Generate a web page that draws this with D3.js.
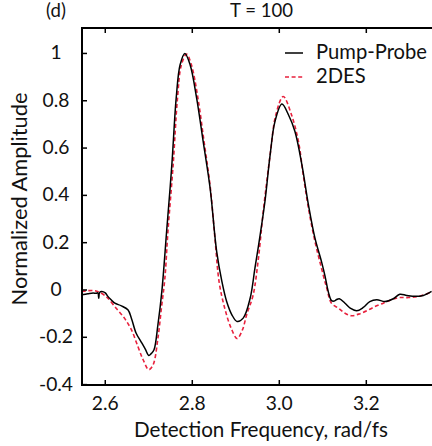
<!DOCTYPE html>
<html><head><meta charset="utf-8">
<script src="https://cdn.jsdelivr.net/npm/d3@7"></script>
<style>body{margin:0;background:#fff}svg{display:block}text{font-family:Lato,"Open Sans",sans-serif;fill:#111}</style>
</head><body>
<svg id="c" width="432" height="446"></svg>
<script>
const ppX = [2.546,2.560,2.572,2.579,2.583,2.585,2.587,2.592,2.600,2.606,2.614,2.622,2.637,2.652,2.660,2.671,2.683,2.692,2.700,2.706,2.712,2.721,2.730,2.741,2.753,2.763,2.772,2.783,2.795,2.810,2.825,2.841,2.856,2.868,2.879,2.891,2.903,2.917,2.933,2.944,2.956,2.967,2.979,2.990,3.006,3.021,3.036,3.052,3.067,3.082,3.097,3.105,3.113,3.120,3.126,3.132,3.138,3.151,3.163,3.178,3.193,3.208,3.224,3.243,3.262,3.277,3.293,3.312,3.331,3.350];
const ppY = [-0.020,-0.016,-0.013,-0.014,-0.012,-0.035,-0.010,-0.006,-0.012,-0.027,-0.042,-0.056,-0.067,-0.084,-0.119,-0.183,-0.221,-0.250,-0.277,-0.268,-0.253,-0.147,-0.006,0.247,0.529,0.811,0.952,1.000,0.952,0.811,0.628,0.430,0.163,0.036,-0.049,-0.105,-0.133,-0.119,-0.035,0.092,0.233,0.374,0.572,0.712,0.786,0.741,0.670,0.529,0.360,0.219,0.120,0.060,-0.010,-0.045,-0.047,-0.040,-0.037,-0.056,-0.077,-0.088,-0.074,-0.049,-0.041,-0.049,-0.037,-0.018,-0.023,-0.027,-0.023,-0.006];
const desX = [2.546,2.560,2.575,2.585,2.600,2.606,2.625,2.644,2.660,2.675,2.687,2.700,2.710,2.721,2.729,2.737,2.744,2.756,2.766,2.775,2.787,2.798,2.813,2.827,2.841,2.852,2.862,2.875,2.889,2.903,2.915,2.925,2.940,2.952,2.963,2.979,2.992,3.009,3.028,3.044,3.055,3.067,3.082,3.097,3.109,3.120,3.136,3.151,3.166,3.182,3.201,3.220,3.239,3.258,3.277,3.297,3.320,3.350];
const desY = [-0.006,-0.003,-0.003,-0.008,-0.025,-0.035,-0.077,-0.119,-0.168,-0.239,-0.295,-0.337,-0.316,-0.204,-0.077,0.050,0.247,0.529,0.811,0.952,0.997,0.952,0.811,0.628,0.440,0.220,0.030,-0.080,-0.160,-0.205,-0.170,-0.105,-0.020,0.134,0.330,0.572,0.740,0.818,0.741,0.628,0.487,0.346,0.205,0.092,0.008,-0.056,-0.077,-0.098,-0.109,-0.102,-0.088,-0.070,-0.056,-0.041,-0.032,-0.032,-0.027,-0.009];
const xTicks = [2.6,2.8,3.0,3.2];
const xTickLabels = ["2.6","2.8","3.0","3.2"];
const yTicks = [-0.4,-0.2,0,0.2,0.4,0.6,0.8,1];
const yTickLabels = ["-0.4","-0.2","0","0.2","0.4","0.6","0.8","1"];
const seriesNames = ["Pump-Probe","2DES"];
const title = "T = 100", panel = "(d)";
const xLabel = "Detection Frequency, rad/fs", yLabel = "Normalized Amplitude";

const svg = d3.select("#c");
const L=82, R=432, T=28, B=385;
const x = d3.scaleLinear().domain([2.5465,3.351]).range([L,R]);
const y = d3.scaleLinear().domain([-0.4,1.1]).range([384.6,29.8]);

svg.append("clipPath").attr("id","clip").append("rect").attr("x",L).attr("y",T).attr("width",R-L).attr("height",B-T);

const line = d3.line().x(d=>x(d[0])).y(d=>y(d[1])).curve(d3.curveCatmullRom.alpha(0.5));
const g = svg.append("g").attr("clip-path","url(#clip)");
g.append("path").datum(desX.map((v,i)=>[v,desY[i]])).attr("d",line)
  .attr("fill","none").attr("stroke","#e8203c").attr("stroke-width",1.6).attr("stroke-dasharray","4,2.6");
g.append("path").datum(ppX.map((v,i)=>[v,ppY[i]])).attr("d",line)
  .attr("fill","none").attr("stroke","#000").attr("stroke-width",1.5);

// axes
const ax = svg.append("g").attr("stroke","#000").attr("stroke-width",2).attr("fill","none");
ax.append("path").attr("d",`M${R},${T}H${L}V${B}H${R}`);
xTicks.forEach(t=>{
  ax.append("line").attr("x1",x(t)).attr("x2",x(t)).attr("y1",B).attr("y2",B-5).attr("stroke-width",1.5);
  ax.append("line").attr("x1",x(t)).attr("x2",x(t)).attr("y1",T).attr("y2",T+5).attr("stroke-width",1.5);
});
yTicks.forEach(t=>{
  ax.append("line").attr("x1",L).attr("x2",L+5).attr("y1",y(t)).attr("y2",y(t)).attr("stroke-width",1.5);
});
const fs = 17;
const xt = xTicks.map((t,i)=>svg.append("text").attr("x",x(t)).attr("y",410).attr("text-anchor","middle").attr("font-size",fs).text(xTickLabels[i]));
const yt = yTicks.map((t,i)=>svg.append("text").attr("x",56).attr("y",y(t)+6).attr("text-anchor","middle").attr("font-size",fs).text(yTickLabels[i]));

const xl = svg.append("text").attr("x",261).attr("y",437).attr("text-anchor","middle").attr("font-size",18).text(xLabel);
const yl = svg.append("text").attr("transform","translate(27,199) rotate(-90)").attr("text-anchor","middle").attr("font-size",18).text(yLabel);
const tt = svg.append("text").attr("x",261.5).attr("y",17).attr("text-anchor","middle").attr("font-size",16).text(title);
const pn = svg.append("text").attr("x",56).attr("y",17).attr("text-anchor","middle").attr("font-size",16).text(panel);

// legend
const lg = svg.append("g");
lg.append("line").attr("x1",285).attr("x2",303).attr("y1",53).attr("y2",53).attr("stroke","#000").attr("stroke-width",1.5);
lg.append("line").attr("x1",285).attr("x2",303).attr("y1",77).attr("y2",77).attr("stroke","#e8203c").attr("stroke-width",1.6).attr("stroke-dasharray","4,2.6");
const l1 = lg.append("text").attr("x",316).attr("y",59).attr("font-size",17).text(seriesNames[0]);
const l2 = lg.append("text").attr("x",316).attr("y",83).attr("font-size",17).text(seriesNames[1]);

function fitGroup(ref, w, group){
  const f = +ref.attr("font-size") * w / ref.node().getComputedTextLength();
  group.forEach(s=>s.attr("font-size",f.toFixed(2)));
}
fitGroup(xl,254,[xl]);
fitGroup(yl,213,[yl]);
fitGroup(tt,63,[tt,pn]);
fitGroup(l1,111,[l1,l2]);
fitGroup(yt[0],34,xt.concat(yt));
</script>
</body></html>
